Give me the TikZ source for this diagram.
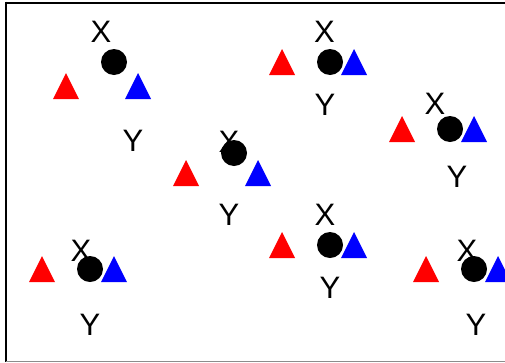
\documentclass[tikz,border=0pt]{standalone}
\usepackage{fontspec}
\setmainfont{Liberation Sans}
\begin{document}
\begin{tikzpicture}[x=1pt,y=-1pt,
  lbl/.style={inner sep=0pt,font=\fontsize{31}{31}\selectfont},
  dot/.style={circle,fill=black,minimum size=26pt,inner sep=0pt},
  redtri/.style={fill=red},
  bluetri/.style={fill=blue}]
\useasboundingbox (0,0) rectangle (505,362);
\clip (0,0) rectangle (505,362);
% frame
\draw[line width=2pt] (5.8,2.5) -- (505,2.5);
\draw[line width=2pt] (5.8,1.5) -- (5.8,362);
\draw[line width=1pt,black!45] (5.8,361.3) -- (505,361.3);
% labels
\node[lbl] (x1) at (101,32) {X};
\node[lbl] (y1) at (133,141) {Y};
\node[lbl] (x2) at (324.5,32) {X};
\node[lbl] (y2) at (325,105) {Y};
\node[lbl] (x3) at (435,104) {X};
\node[lbl] (y3) at (457,177) {Y};
\node[lbl] (x4) at (229,142) {X};
\node[lbl] (y4) at (229,215) {Y};
\node[lbl] (x5) at (325,215) {X};
\node[lbl] (y5) at (330,288) {Y};
\node[lbl] (x6) at (467,251) {X};
\node[lbl] (y6) at (476,325) {Y};
\node[lbl] (x7) at (81,251) {X};
\node[lbl] (y7) at (90,325) {Y};
% dots
\node[dot] (c1) at (114,62) {};
\node[dot] (c2) at (330,62) {};
\node[dot] (c3) at (450,129) {};
\node[dot] (c4) at (234,153) {};
\node[dot] (c5) at (330,245) {};
\node[dot] (c6) at (474,269) {};
\node[dot] (c7) at (90,269) {};
% triangles: base centre (cx,by), base 26, height 26
\foreach \cx/\by in {66/99, 282/75, 402/142, 186/186, 282/258, 426/282, 42/282}
  \fill[redtri] (\cx-13,\by) -- (\cx+13,\by) -- (\cx,\by-26) -- cycle;
\foreach \cx/\by in {138/99, 354/75, 474/142, 258/186, 354/258, 498/282, 114/282}
  \fill[bluetri] (\cx-13,\by) -- (\cx+13,\by) -- (\cx,\by-26) -- cycle;
\end{tikzpicture}
\end{document}
